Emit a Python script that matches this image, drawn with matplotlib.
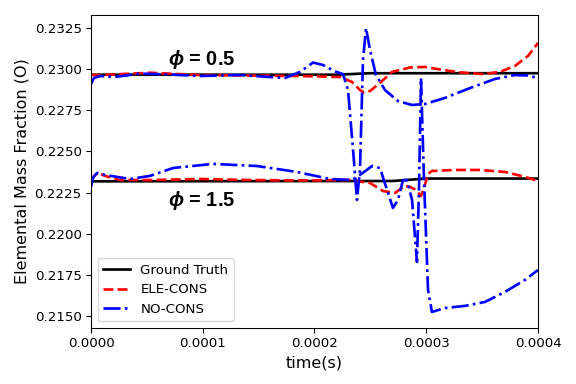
import matplotlib
matplotlib.use("Agg")
import matplotlib.pyplot as plt
from matplotlib.ticker import FormatStrFormatter

plt.rcParams['mathtext.fontset'] = 'custom'
plt.rcParams['mathtext.it'] = 'Liberation Sans:italic:bold'
plt.rcParams['mathtext.rm'] = 'Liberation Sans:bold'

# Ground truth
gt_hi_t = [0, 0.00022, 0.00025, 0.0004]
gt_hi_v = [0.22966, 0.22966, 0.22975, 0.22975]
gt_lo_t = [0, 0.00027, 0.00030, 0.0004]
gt_lo_v = [0.22318, 0.22320, 0.22335, 0.22335]

# ELE-CONS, phi = 0.5
ele_hi_t = [0, 8.1e-6, 5.28e-5, 9.75e-5, 1.423e-4, 1.870e-4, 2.228e-4, 2.336e-4, 2.407e-4,
            2.443e-4, 2.497e-4, 2.586e-4, 2.694e-4, 2.855e-4, 2.989e-4, 3.123e-4, 3.302e-4,
            3.508e-4, 3.660e-4, 3.794e-4, 3.911e-4, 4.0e-4]
ele_hi_v = [0.22964, 0.22964, 0.22978, 0.22964, 0.22961, 0.22958, 0.22952, 0.22922, 0.22873,
            0.22858, 0.22867, 0.22916, 0.22983, 0.23010, 0.23013, 0.22998, 0.22980,
            0.22970, 0.22983, 0.23019, 0.23080, 0.23159]

# ELE-CONS, phi = 1.5
ele_lo_t = [0, 2.7e-6, 6.3e-6, 1.25e-5, 2.6e-5, 5.28e-5, 9.75e-5, 1.423e-4, 1.870e-4, 2.318e-4,
            2.497e-4, 2.613e-4, 2.720e-4, 2.810e-4, 2.855e-4, 2.908e-4, 2.953e-4, 2.980e-4,
            3.016e-4, 3.051e-4, 3.257e-4, 3.481e-4, 3.705e-4, 3.884e-4, 4.0e-4]
ele_lo_v = [0.22320, 0.22351, 0.22369, 0.22351, 0.22326, 0.22326, 0.22332, 0.22326, 0.22323, 0.22326,
            0.22308, 0.22259, 0.22247, 0.22290, 0.22284, 0.22266, 0.22229, 0.22277,
            0.22363, 0.22381, 0.22387, 0.22387, 0.22375, 0.22345, 0.22320]

# NO-CONS, phi = 0.5
no_hi_t = [0, 2.7e-6, 8.1e-6, 2.15e-5, 4.38e-5, 7.07e-5, 9.75e-5, 1.333e-4, 1.602e-4, 1.736e-4,
           1.870e-4, 1.987e-4, 2.076e-4, 2.183e-4, 2.255e-4, 2.300e-4, 2.345e-4, 2.380e-4,
           2.407e-4, 2.434e-4, 2.461e-4, 2.497e-4, 2.550e-4, 2.631e-4, 2.747e-4, 2.873e-4,
           2.989e-4, 3.168e-4, 3.392e-4, 3.615e-4, 3.794e-4, 3.911e-4, 4.0e-4]
no_hi_v = [0.22910, 0.22946, 0.22958, 0.22952, 0.22973, 0.22967, 0.22958, 0.22964, 0.22952, 0.22946,
           0.22983, 0.23040, 0.23025, 0.22986, 0.22970, 0.22873, 0.22509, 0.22205,
           0.22387, 0.23056, 0.23250, 0.23116, 0.22964, 0.22873, 0.22806, 0.22782,
           0.22788, 0.22825, 0.22885, 0.22940, 0.22964, 0.22961, 0.22946]

# NO-CONS, phi = 1.5
no_lo_t = [0, 1.8e-6, 5.4e-6, 1.25e-5, 3.49e-5, 5.28e-5, 7.34e-5, 1.092e-4, 1.485e-4, 1.843e-4,
           2.139e-4, 2.336e-4, 2.407e-4, 2.515e-4, 2.586e-4, 2.649e-4, 2.702e-4, 2.747e-4,
           2.792e-4, 2.828e-4, 2.873e-4, 2.917e-4, 2.935e-4, 2.953e-4, 2.980e-4, 3.016e-4,
           3.051e-4, 3.168e-4, 3.347e-4, 3.526e-4, 3.705e-4, 3.884e-4, 4.0e-4]
no_lo_v = [0.22284, 0.22339, 0.22369, 0.22357, 0.22332, 0.22351, 0.22399, 0.22424, 0.22411, 0.22375,
           0.22332, 0.22326, 0.22357, 0.22411, 0.22399, 0.22266, 0.22156, 0.22205,
           0.22326, 0.22326, 0.22205, 0.21828, 0.22266, 0.22946, 0.22326, 0.21658,
           0.21524, 0.21548, 0.21561, 0.21585, 0.21646, 0.21719, 0.21779]

fig = plt.figure(figsize=(6, 4), dpi=96)
ax = fig.add_axes([0.158, 0.146, 0.776, 0.815])

lw = 2
ax.plot(gt_hi_t, gt_hi_v, color='black', lw=lw, label='Ground Truth')
ax.plot(gt_lo_t, gt_lo_v, color='black', lw=lw)
ax.plot(ele_hi_t, ele_hi_v, color='red', ls='--', lw=lw, label='ELE-CONS')
ax.plot(ele_lo_t, ele_lo_v, color='red', ls='--', lw=lw)
ax.plot(no_hi_t, no_hi_v, color='blue', ls='-.', lw=lw, label='NO-CONS')
ax.plot(no_lo_t, no_lo_v, color='blue', ls='-.', lw=lw)

ax.text(0.0000685, 0.23056, r'$\phi$ = 0.5', fontsize=15, fontweight='bold',
        family=['Liberation Sans', 'DejaVu Sans'], va='center', ha='left')
ax.text(0.0000685, 0.22199, r'$\phi$ = 1.5', fontsize=15, fontweight='bold',
        family=['Liberation Sans', 'DejaVu Sans'], va='center', ha='left')

ax.set_xlim(0, 0.0004)
ax.set_ylim(0.21427, 0.23329)
ax.set_xticks([0, 0.0001, 0.0002, 0.0003, 0.0004])
ax.set_yticks([0.2150, 0.2175, 0.2200, 0.2225, 0.2250, 0.2275, 0.2300, 0.2325])
ax.xaxis.set_major_formatter(FormatStrFormatter('%.4f'))
ax.yaxis.set_major_formatter(FormatStrFormatter('%.4f'))
ax.set_xlabel('time(s)', fontsize=12)
ax.set_ylabel('Elemental Mass Fraction (O)', fontsize=12)
ax.legend(loc='lower left', fontsize=10)

fig.savefig('out.png', dpi=96)
